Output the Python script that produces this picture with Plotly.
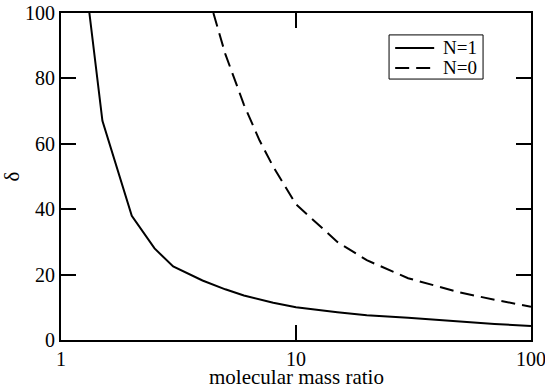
import plotly.graph_objects as go

# N=1 (solid)
x_n1 = [1.32, 1.5, 2.0, 2.5, 3.0, 4.0, 5.0, 6.0, 8.0, 10.0, 15.0, 20.0, 30.0, 50.0, 70.0, 100.0]
d_n1 = [100, 67, 38, 28, 22.5, 18.2, 15.5, 13.6, 11.4, 10.0, 8.5, 7.6, 6.8, 5.6, 4.9, 4.3]

# N=0 (dashed)
x_n0 = [4.45, 5.0, 6.0, 7.0, 8.0, 10.0, 15.0, 20.0, 30.0, 50.0, 70.0, 100.0]
d_n0 = [100, 87.5, 72, 61, 53, 41.5, 30, 24.4, 18.9, 14.5, 12.3, 10.2]

series_names = ["N=1", "N=0"]
x_title = "molecular mass ratio"
y_title = "δ"
x_minor_ticks = [2, 3, 4, 5, 6, 7, 8, 9, 20, 30, 40, 50, 60, 70, 80, 90]
y_minor_ticks = [10, 30, 50, 70, 90]

FONT = "Liberation Serif, Times New Roman, Times, serif"
DASH = "14px,7px"
XR = [-0.0002, 2.0002]
YR = [0, 100]

fig = go.Figure()
fig.add_trace(go.Scatter(x=x_n1, y=d_n1, mode="lines", name=series_names[0],
                         line=dict(color="black", width=2), showlegend=False))
fig.add_trace(go.Scatter(x=x_n0, y=d_n0, mode="lines", name=series_names[1],
                         line=dict(color="black", width=2, dash=DASH), showlegend=False))

# legend box (drawn in paper coordinates)
lx0, lx1, ly0, ly1 = 0.698, 0.898, 0.798, 0.933
rows = [0.893, 0.832]
fig.add_shape(type="rect", xref="paper", yref="paper", x0=lx0, x1=lx1, y0=ly0, y1=ly1,
              line=dict(color="black", width=1), fillcolor="white", layer="above")
for i, name in enumerate(series_names):
    fig.add_shape(type="line", xref="paper", yref="paper", x0=0.711, x1=0.794,
                  y0=rows[i], y1=rows[i], layer="above",
                  line=dict(color="black", width=2, dash=None if i == 0 else DASH))
    fig.add_annotation(xref="paper", yref="paper", x=0.809, y=rows[i], text=name,
                       showarrow=False, xanchor="left", yanchor="middle",
                       font=dict(family=FONT, size=19, color="black"))

# x axis title
fig.add_annotation(xref="paper", yref="paper", x=0.5, y=-0.113, text=x_title,
                   showarrow=False, xanchor="center", yanchor="middle",
                   font=dict(family=FONT, size=21, color="black"))

tick_style = dict(tickwidth=2, tickcolor="black", showgrid=False, zeroline=False,
                  automargin=False)

fig.update_layout(
    template="none",
    width=545, height=388,
    margin=dict(l=61, r=14, t=13, b=48),
    paper_bgcolor="white", plot_bgcolor="white",
    font=dict(family=FONT, size=20, color="black"),
    showlegend=False,
    xaxis=dict(type="log", range=XR, tickmode="linear", tick0=0, dtick=1,
               ticks="inside", ticklen=15, layer="above traces",
               showline=True, linewidth=2, linecolor="black", mirror="allticks",
               ticklabeloverflow="allow", tickfont=dict(size=20, family=FONT),
               **tick_style),
    yaxis=dict(range=YR, tickmode="linear", tick0=0, dtick=20,
               ticks="inside", ticklen=15, layer="above traces",
               showline=True, linewidth=2, linecolor="black", mirror="allticks",
               ticklabeloverflow="allow", tickfont=dict(size=20, family=FONT),
               title=dict(text=y_title, font=dict(size=21, family=FONT), standoff=8),
               **tick_style),
    # overlay axes carrying the shorter minor ticks
    xaxis2=dict(type="log", range=XR, overlaying="x", anchor="y", side="bottom",
                tickmode="array", tickvals=x_minor_ticks, ticks="inside", ticklen=8,
                showticklabels=False, showline=False, mirror="ticks", **tick_style),
    yaxis2=dict(range=YR, overlaying="y", anchor="x", side="left",
                tickmode="array", tickvals=y_minor_ticks, ticks="inside", ticklen=8,
                showticklabels=False, showline=False, mirror="ticks", **tick_style),
)

fig.write_html("out.html", config={"displayModeBar": False},
               post_script="document.body.style.margin='0';document.body.style.overflow='hidden';")
